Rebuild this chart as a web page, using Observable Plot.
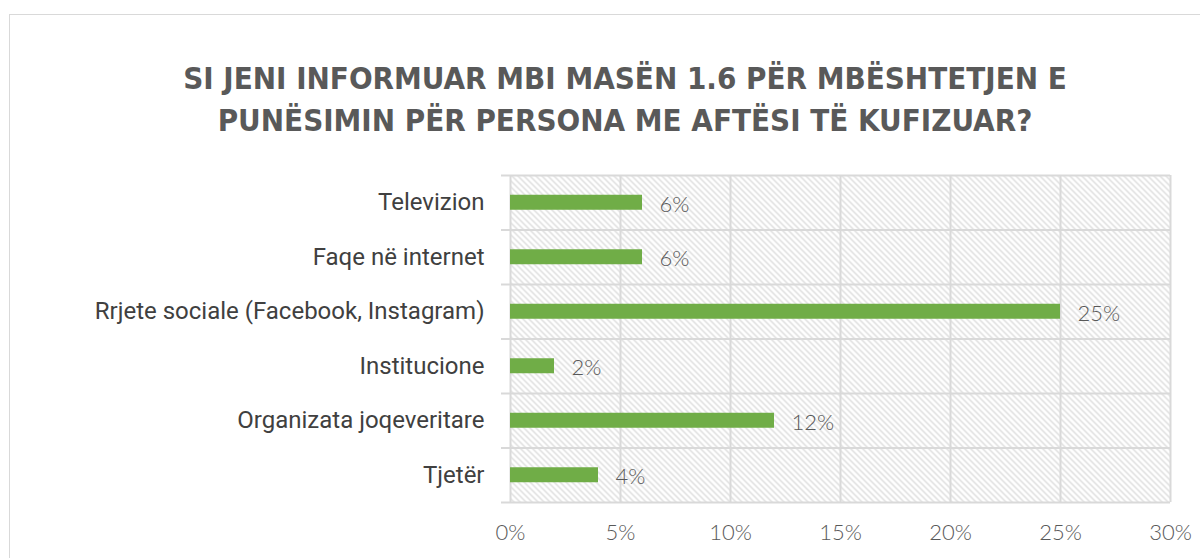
<!DOCTYPE html>
<html><head><meta charset="utf-8">
<script src="https://cdn.jsdelivr.net/npm/d3@7"></script>
<script src="https://cdn.jsdelivr.net/npm/@observablehq/plot@0.6"></script>
<style>
body{margin:0;background:#fff;width:1200px;height:558px;overflow:hidden;position:relative;}
#frame{position:absolute;left:9px;top:14px;width:1240px;height:700px;border:1px solid #d9d9d9;box-sizing:border-box;}
#title{position:absolute;left:10px;width:1230px;top:57px;text-align:center;font-family:"DejaVu Sans Condensed","DejaVu Sans";font-weight:bold;font-size:31px;line-height:42px;color:#595959;}
#chart{position:absolute;left:0;top:150px;}
#chart svg [aria-label="y-axis tick label"] text{font-family:Roboto,"DejaVu Sans";font-size:24px;fill:#404040;}
#chart svg [aria-label="x-axis tick label"] text{font-family:Lato,"DejaVu Sans";font-weight:300;font-size:22px;fill:#595959;}
</style></head><body>
<div id="frame"></div>
<div id="title">SI JENI INFORMUAR MBI MASËN 1.6 PËR MBËSHTETJEN E<br>PUNËSIMIN PËR PERSONA ME AFTËSI TË KUFIZUAR?</div>
<div id="chart"></div>
<script>
const categories = ["Televizion", "Faqe në internet", "Rrjete sociale (Facebook, Instagram)", "Institucione", "Organizata joqeveritare", "Tjetër"];
const values = [0.06, 0.06, 0.25, 0.02, 0.12, 0.04];
const valueLabels = ["6%", "6%", "25%", "2%", "12%", "4%"];
const xTicks = [0, 0.05, 0.10, 0.15, 0.20, 0.25, 0.30];
const xTickLabels = ["0%", "5%", "10%", "15%", "20%", "25%", "30%"];

const rows = categories.map((c, i) => ({i, category: c, value: values[i], label: valueLabels[i]}));
const boundaries = d3.range(categories.length + 1).map(i => i - 0.5);

const plot = Plot.plot({
  width: 1200, height: 408,
  marginLeft: 510, marginRight: 30, marginTop: 25, marginBottom: 56,
  style: {background: "transparent", overflow: "visible"},
  x: {domain: [0, 0.30]},
  y: {domain: [-0.5, categories.length - 0.5], reverse: true},
  marks: [
    Plot.frame({fill: "url(#hatch)", stroke: "none"}),
    Plot.ruleX(xTicks, {stroke: "#d9d9d9", strokeWidth: 2}),
    Plot.ruleY(boundaries, {stroke: "#d9d9d9", strokeWidth: 2, insetLeft: -9}),
    Plot.rectX(rows, {x1: 0, x2: "value", y1: d => d.i - 0.5, y2: d => d.i + 0.5, insetTop: 19.75, insetBottom: 19.75, fill: "#70ad47"}),
    Plot.text(rows, {x: "value", y: "i", text: "label", dx: 17, dy: 2, textAnchor: "start", fill: "#595959", fontSize: 22, fontFamily: "Lato", fontWeight: 300}),
    Plot.axisX({ticks: xTicks, tickFormat: d => xTickLabels[xTicks.indexOf(d)], tickSize: 0, tickPadding: 22, label: null}),
    Plot.axisY({ticks: rows.map(d => d.i), tickFormat: i => categories[i], tickSize: 0, tickPadding: 26, label: null})
  ]
});
const ns = "http://www.w3.org/2000/svg";
const defs = document.createElementNS(ns, "defs");
defs.innerHTML = '<pattern id="hatch" patternUnits="userSpaceOnUse" width="6" height="6"><path d="M0,0L6,6M-1,5L1,7M5,-1L7,1" stroke="#d9d9d9" stroke-width="1.3" fill="none"/></pattern>';
plot.insertBefore(defs, plot.firstChild);
document.getElementById("chart").appendChild(plot);
</script>
</body></html>
